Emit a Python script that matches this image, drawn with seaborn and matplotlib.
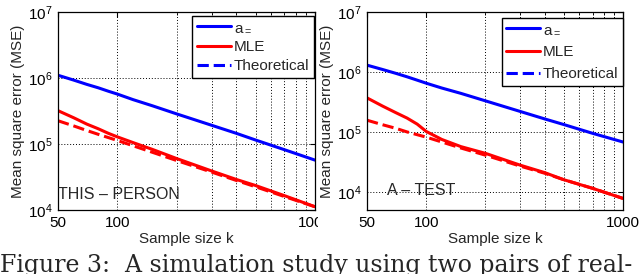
import numpy as np
import pandas as pd
import seaborn as sns
import matplotlib
matplotlib.use("Agg")
from matplotlib import pyplot as plt
from matplotlib.transforms import Bbox, TransformedBbox

# sample sizes
k = [50, 60, 70, 80, 90, 100, 120, 150, 200, 300, 400, 500, 700, 1000]

# left panel (THIS - PERSON)
left_a = [1.1e6, 9.3e5, 8.0e5, 7.1e5, 6.3e5, 5.7e5, 4.7e5, 3.8e5, 2.85e5, 1.92e5, 1.45e5, 1.15e5, 8.2e4, 5.7e4]
left_mle = [3.2e5, 2.5e5, 2.0e5, 1.7e5, 1.45e5, 1.28e5, 1.05e5, 8.3e4, 6.0e4, 3.9e4, 2.9e4, 2.35e4, 1.65e4, 1.12e4]
left_theo = [2.25e5, 1.88e5, 1.6e5, 1.4e5, 1.25e5, 1.13e5, 9.4e4, 7.5e4, 5.6e4, 3.75e4, 2.8e4, 2.25e4, 1.6e4, 1.12e4]

# right panel (A - TEST)
right_a = [1.3e6, 1.1e6, 9.5e5, 8.3e5, 7.3e5, 6.5e5, 5.4e5, 4.4e5, 3.3e5, 2.2e5, 1.65e5, 1.33e5, 9.5e4, 6.8e4]
right_mle = [3.7e5, 2.7e5, 2.1e5, 1.7e5, 1.35e5, 1.02e5, 7.5e4, 5.7e4, 4.4e4, 2.8e4, 2.1e4, 1.6e4, 1.15e4, 7.8e3]
right_theo = [1.57e5, 1.32e5, 1.15e5, 1.0e5, 9.0e4, 8.2e4, 6.8e4, 5.4e4, 4.1e4, 2.7e4, 2.05e4, 1.6e4, 1.15e4, 7.8e3]

xticks = [50, 100, 1000]
xticklabels = ["50", "100", "1000"]
xgrid = [100, 200, 300, 400, 500, 600, 700, 800, 900]

sns.set_style("white")
plt.rcParams["font.family"] = ["Liberation Sans", "DejaVu Sans"]
plt.rcParams["mathtext.fontset"] = "custom"
plt.rcParams["mathtext.rm"] = "Liberation Sans"
plt.rcParams["mathtext.it"] = "Liberation Sans"

W, H = 640, 274
fig = plt.figure(figsize=(6.4, 2.74), dpi=100)


def px_axes(x0, x1, y0, y1):
    return fig.add_axes([x0 / W, 1 - y1 / H, (x1 - x0) / W, (y1 - y0) / H])


def draw_panel(ax, a_vals, mle_vals, theo_vals, ylim, tag, tag_xy, leg_anchor, spacing):
    df = pd.DataFrame({"k": k, "a": a_vals, "mle": mle_vals, "theo": theo_vals})
    sns.lineplot(data=df, x="k", y="a", ax=ax, color="#0000ff", lw=2.2)
    sns.lineplot(data=df, x="k", y="mle", ax=ax, color="#ff0000", lw=2.2)
    sns.lineplot(data=df, x="k", y="theo", ax=ax, color="#ff0000", lw=2.2, ls="--")
    ax.set_xscale("log")
    ax.set_yscale("log")
    ax.set_xlim(50, 1000)
    ax.set_ylim(*ylim)
    ax.set_xticks(xticks)
    ax.set_xticklabels(xticklabels)
    ax.set_xticks([g for g in xgrid if g != 100], minor=True)
    ax.xaxis.set_minor_formatter(plt.NullFormatter())
    ax.set_yticks([1e4, 1e5, 1e6, 1e7])
    ax.yaxis.set_minor_locator(plt.NullLocator())
    ax.tick_params(which="both", direction="in", top=True, right=True, colors="black")
    ax.tick_params(which="major", length=3.5, labelsize=11, pad=4)
    ax.tick_params(which="minor", length=2)
    # dotted grid
    for gx in xgrid:
        ax.axvline(gx, color="black", lw=0.7, ls=(0, (1, 2)), zorder=0)
    for gy in [1e4, 1e5, 1e6]:
        ax.axhline(gy, color="black", lw=0.7, ls=(0, (1, 2)), zorder=0)
    for s in ax.spines.values():
        s.set_visible(True)
        s.set_color("black")
        s.set_linewidth(0.9)
    ax.set_xlabel("Sample size k", fontsize=11, labelpad=2)
    ax.set_ylabel("Mean square error (MSE)", fontsize=11, labelpad=2)
    ax.text(tag_xy[0], tag_xy[1], tag, transform=ax.transAxes, fontsize=11.5, va="bottom")
    # legend: a (blue solid), MLE (red solid), Theoretical (blue dashed)
    handles = [
        plt.Line2D([], [], color="#0000ff", lw=2.2),
        plt.Line2D([], [], color="#ff0000", lw=2.2),
        plt.Line2D([], [], color="#0000ff", lw=2.2, ls="--"),
    ]
    ax.legend(handles, [r"a$_{=}$", "MLE", "Theoretical"], loc="upper right",
              bbox_to_anchor=leg_anchor, fontsize=11, frameon=True, fancybox=False,
              edgecolor="black", framealpha=1, handlelength=2.2, handletextpad=0.2,
              borderpad=0.3, labelspacing=spacing, borderaxespad=0)


ax1 = px_axes(58, 315, 12, 210)
draw_panel(ax1, left_a, left_mle, left_theo, (1e4, 1e7), "THIS – PERSON", (0.0, 0.04), (0.995, 0.98), 0.35)

ax2 = px_axes(367, 623, 12, 210)
draw_panel(ax2, right_a, right_mle, right_theo, (5e3, 1e7), "A – TEST", (0.08, 0.06), (1.0, 0.97), 0.55)

# left sub-figure is cropped at its right edge
clip = TransformedBbox(Bbox([[0, 0], [318 / W, 1]]), fig.transFigure)
for lab in ax1.get_xticklabels():
    lab.set_clip_box(clip)
    lab.set_clip_on(True)

# caption, cut off at the bottom of the image
fig.text(0.0, 1 - 254 / H, "Figure 3:  A simulation study using two pairs of real-",
         family=["DejaVu Serif"], fontsize=17, va="top", ha="left")

fig.savefig("out.png", dpi=100)
